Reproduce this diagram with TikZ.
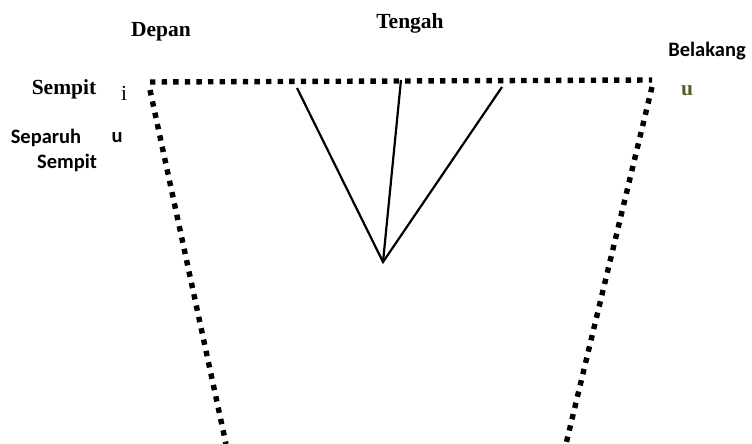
\documentclass[tikz,border=0pt]{standalone}
\usepackage{fontspec}
\setmainfont{Liberation Serif}
\newfontfamily\calib{Carlito}
\usepackage{tikz}
\usetikzlibrary{calc}
\definecolor{olivegreen}{HTML}{4F6228}
\tikzset{
  dotline/.style={line width=5.4pt, dash pattern=on 5.4pt off 6.2pt},
  serifbold/.style={font=\fontsize{21.5}{25}\selectfont\bfseries},
  sansbold/.style={font=\fontsize{20.5}{24}\selectfont\calib\bfseries},
}

\begin{document}
\begin{tikzpicture}[x=1pt, y=-1pt, thick]
        \useasboundingbox (0,0) rectangle (752,444);

        % judul kolom
        \node[serifbold] (depan) at (161,32) {Depan};
        \node[serifbold] (tengah) at (410,23) {Tengah};
        \node[sansbold] (belakang) at (707,51) {Belakang};

        % label baris
        \node[serifbold] (sempit) at (64,89) {Sempit};
        \node[font=\fontsize{21.5}{25}\selectfont] (vi) at (124,93) {i};
        \node[sansbold] (separuh) at (46,138) {Separuh};
        \node[sansbold] (vu) at (117,138) {u};
        \node[sansbold] (sempitb) at (67,163) {Sempit};
        \node[serifbold, text=olivegreen] (vub) at (687,91) {u};

        % sudut trapesium vokal
        \coordinate (tl) at (150,82);
        \coordinate (tr) at (652,80);
        \coordinate (bl) at (226,444);
        \coordinate (br) at (566,444);

        % garis putus-putus
        \draw[dotline] (tl) -- (tr);
        \draw[dotline] ($(tl)+(0,8)$) -- (bl);
        \draw[dotline] ($(tr)+(0,7)$) -- (br);

        % garis dari titik tengah
        \coordinate (apex) at (383,262);
        \coordinate (t1) at (297,88);
        \coordinate (t2) at (401,80);
        \coordinate (t3) at (502,87);
        \draw[line width=2.2pt] (t1) -- (apex) -- (t3);
        \draw[line width=2.2pt] (apex) -- (t2);

    \end{tikzpicture}
\end{document}
